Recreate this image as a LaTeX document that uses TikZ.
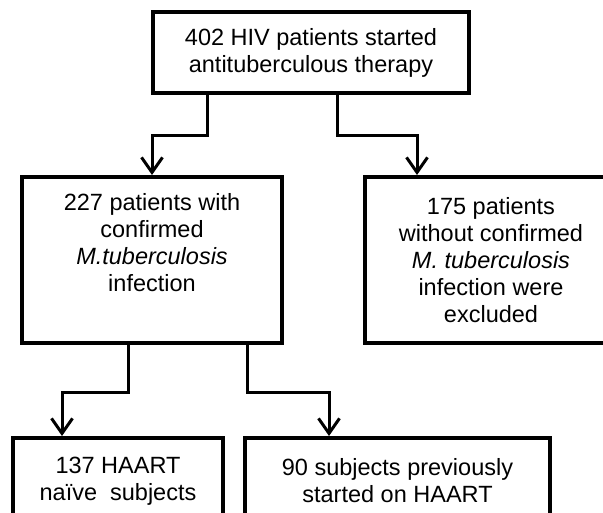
\documentclass[tikz,border=0pt]{standalone}
\usepackage{fontspec}
\setmainfont{Liberation Sans}
\usetikzlibrary{positioning,arrows.meta,calc}

\begin{document}
\begin{tikzpicture}[
    x=1pt, y=-1pt,
    font=\fontsize{23.5}{27}\selectfont,
    stage/.style={rectangle, draw, line width=4pt, align=center, inner sep=0pt},
    link/.style={line width=3pt, -{Straight Barb[length=15pt, width=21pt]}},
    >=Stealth
  ]
    \useasboundingbox (0,0) rectangle (603,513);

    \node[stage, minimum width=316pt, minimum height=81pt] (start) at (311,52.5)
      {402 HIV patients started\\antituberculous therapy};
    \node[stage, minimum width=260pt, minimum height=166pt] (conf) at (152,260)
      {227 patients with\\confirmed\\\textit{M.tuberculosis}\\infection\\\strut};
    \node[stage, minimum width=252pt, minimum height=166pt] (excl) at (491,260)
      {175 patients\\without confirmed\\\textit{M. tuberculosis}\\infection were\\excluded};
    \node[stage, minimum width=210pt, minimum height=86pt] (naive) at (118,481)
      {137 HAART\\naïve~ subjects};
    \node[stage, minimum width=305pt, minimum height=86pt] (prev) at (397.5,481)
      {90 subjects previously\\started on HAART};

    \draw[link] ([xshift=-104pt]start.south) -- ++(0,41) -| (conf.north);
    \draw[link] ([xshift=26pt]start.south) -- ++(0,41) -| ([xshift=-74pt]excl.north);
    \draw[link] ([xshift=-24pt]conf.south) -- ++(0,47) -| ([xshift=-56pt]naive.north);
    \draw[link] ([xshift=95pt]conf.south) -- ++(0,47) -| ([xshift=-68.5pt]prev.north);
  \end{tikzpicture}
\end{document}
